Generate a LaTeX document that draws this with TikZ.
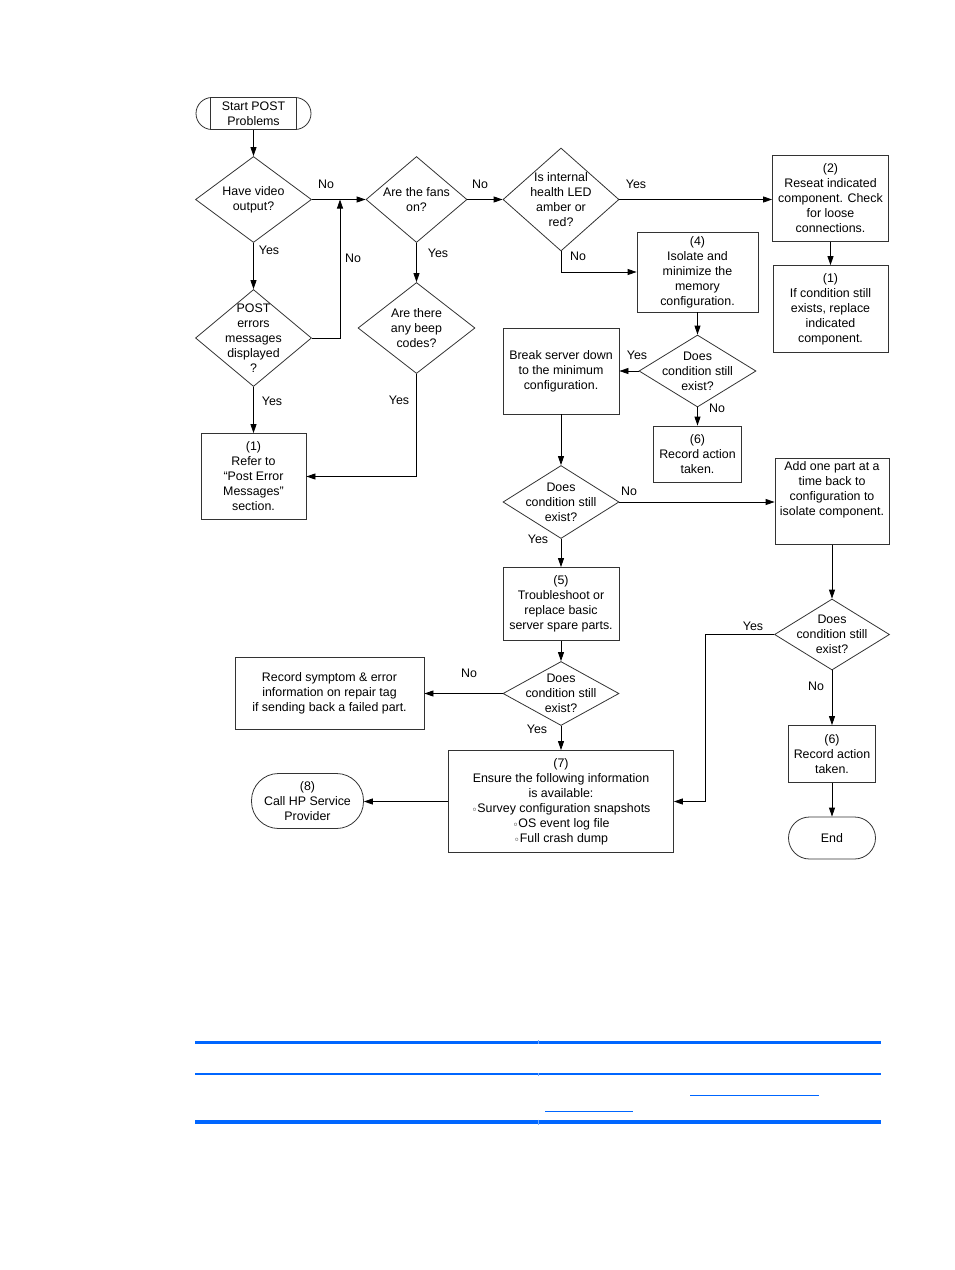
\documentclass[tikz,border=0pt]{standalone}
\usepackage{fontspec}
\setmainfont{Liberation Sans}
\newfontfamily\djv{DejaVu Sans}
\usetikzlibrary{shapes.geometric,arrows.meta,calc}
\newcommand\fsz{\fontsize{12.4}{15}\selectfont}
\newcommand\circb{\raisebox{-1.5pt}{\djv\fontsize{10}{10}\selectfont ◦}}
\definecolor{hpblue}{RGB}{0,102,255}
\begin{document}
\begin{tikzpicture}[x=1pt,y=-1pt,
  every node/.style={font=\fsz},
  box/.style={draw=black!80, line width=0.8pt, align=center, inner sep=0pt, rectangle},
  dia/.style={diamond, draw=black!80, line width=0.8pt, align=center, inner sep=-60pt},
  pill/.style={box, rounded corners=#1},
  lbl/.style={inner sep=0pt},
  arr/.style={-{Triangle[length=9pt,width=6pt]}, line width=0.8pt, black}
]
\useasboundingbox (0,0) rectangle (954,1270);

% nodes
\node[pill=16pt, minimum width=115pt, minimum height=32pt] (start) at (253.5,113.5) {Start POST\\Problems};
\draw[black!80, line width=0.8pt] ([xshift=15pt]start.north west) -- ([xshift=15pt]start.south west);
\draw[black!80, line width=0.8pt] ([xshift=-15pt]start.north east) -- ([xshift=-15pt]start.south east);

\node[dia, minimum width=116pt, minimum height=86pt] (d1) at (253.5,199.5) {Have video\\output?};
\node[dia, minimum width=116pt, minimum height=97pt] (d2) at (253.5,338) {POST\\errors\\messages\\displayed\\?};
\node[box, minimum width=105pt, minimum height=86pt] (ref1) at (253.5,476.5) {(1)\\Refer to\\“Post Error\\Messages”\\section.};
\node[dia, minimum width=101pt, minimum height=86pt] (d3) at (416.5,199.5) {Are the fans\\on?};
\node[dia, minimum width=117pt, minimum height=91pt] (d4) at (416.5,328) {Are there\\any beep\\codes?};
\node[dia, minimum width=116pt, minimum height=103pt] (d5) at (561,199.5) {Is internal\\health LED\\amber or\\red?};
\node[box, minimum width=116pt, minimum height=86pt] (b2) at (830.5,198.5) {(2)\\Reseat indicated\\component. Check\\for loose\\connections.};
\node[box, minimum width=115pt, minimum height=87pt] (b1b) at (830.5,309) {(1)\\If condition still\\exists, replace\\indicated\\component.};
\node[box, minimum width=121pt, minimum height=80pt] (b4) at (697.5,272) {(4)\\Isolate and\\minimize the\\memory\\configuration.};
\node[dia, minimum width=117pt, minimum height=72pt] (d6) at (697.5,371) {Does\\condition still\\exist?};
\node[box, minimum width=116pt, minimum height=86pt] (brk) at (561,371) {Break server down\\to the minimum\\configuration.};
\node[box, minimum width=88pt, minimum height=56pt] (r6) at (697.5,454) {(6)\\Record action\\taken.};
\node[dia, minimum width=116pt, minimum height=73pt] (d7) at (561,502) {Does\\condition still\\exist?};
\node[box, minimum width=114pt, minimum height=86pt] (add) at (832,501.5) {};
\node[align=center, inner sep=0pt, anchor=north] (addtxt) at ($(add.north)+(0,3)$) {Add one part at a\\time back to\\configuration to\\isolate component.};
\node[dia, minimum width=115pt, minimum height=71pt] (d8) at (832,634.5) {Does\\condition still\\exist?};
\node[box, minimum width=87pt, minimum height=57pt] (r6b) at (832,754) {(6)\\Record action\\taken.};
\node[pill=21pt, minimum width=87pt, minimum height=42pt] (end) at (832,838) {End};
\node[box, minimum width=116pt, minimum height=73pt] (b5) at (561,604) {(5)\\Troubleshoot or\\replace basic\\server spare parts.};
\node[dia, minimum width=116pt, minimum height=64pt] (d9) at (561,693.5) {Does\\condition still\\exist?};
\node[box, minimum width=189pt, minimum height=72pt] (rec) at (329.5,693.5) {Record symptom \& error\\information on repair tag\\if sending back a failed part.};
\node[box, minimum width=225pt, minimum height=102pt] (b7) at (561,801.5) {(7)\\Ensure the following information\\is available:\\\circb Survey configuration snapshots\\\circb OS event log file\\\circb Full crash dump};
\node[pill=27pt, minimum width=112pt, minimum height=55pt] (p8) at (307.5,801) {(8)\\Call HP Service\\Provider};

% junctions
\coordinate (j1) at (340,199.5);
\coordinate (j2) at (705,634.5);

% connectors
\draw[arr] (start) -- (d1);
\draw[arr] (d1.east) -- (d3.west);
\draw[arr] (d2.east) -| (j1);
\draw[arr] (d1) -- (d2);
\draw[arr] (d2) -- (ref1);
\draw[arr] (d3) -- (d4);
\draw[arr] (d4.south) |- (ref1.east);
\draw[arr] (d3.east) -- (d5.west);
\draw[arr] (d5.east) -- (d5.east -| b2.west);
\draw[arr] (d5.south) |- (b4.west);
\draw[arr] (b2) -- (b1b);
\draw[arr] (b4) -- (d6);
\draw[arr] (d6.west) -- (d6.west -| brk.east);
\draw[arr] (d6) -- (r6);
\draw[arr] (brk) -- (d7);
\draw[arr] (d7.east) -- (d7.east -| add.west);
\draw[arr] (d7) -- (b5);
\draw[arr] (add) -- (d8);
\draw[arr] (d8.west) -- (j2) |- (b7.east);
\draw[arr] (d8) -- (r6b);
\draw[arr] (r6b) -- (end);
\draw[arr] (b5) -- (d9);
\draw[arr] (d9.west) -- (d9.west -| rec.east);
\draw[arr] (d9) -- (b7);
\draw[arr] (b7.west) -- (b7.west -| p8.east);

% labels
\node[lbl] (l1) at (326,184.5) {No};
\node[lbl] (l2) at (353,258.5) {No};
\node[lbl] (l3) at (269,250.5) {Yes};
\node[lbl] (l4) at (272,401.5) {Yes};
\node[lbl] (l5) at (438,253.5) {Yes};
\node[lbl] (l6) at (399,400.5) {Yes};
\node[lbl] (l7) at (480,184.5) {No};
\node[lbl] (l8) at (636,184.5) {Yes};
\node[lbl] (l9) at (578,256.5) {No};
\node[lbl] (l10) at (637,355.5) {Yes};
\node[lbl] (l11) at (717,408.5) {No};
\node[lbl] (l12) at (629,491.5) {No};
\node[lbl] (l13) at (538,539.5) {Yes};
\node[lbl] (l14) at (753,626.5) {Yes};
\node[lbl] (l15) at (816,686.5) {No};
\node[lbl] (l16) at (469,673.5) {No};
\node[lbl] (l17) at (537,729.5) {Yes};

% bottom table rules
\fill[hpblue] (195,1040.5) rectangle (881,1043.5);
\fill[hpblue] (195,1073) rectangle (881,1075);
\fill[hpblue] (195,1120) rectangle (881,1124);
\draw[hpblue!55, line width=0.6pt] (538,1040) -- (538,1044);
\draw[hpblue!55, line width=0.6pt] (538,1072.5) -- (538,1075.5);
\draw[hpblue!55, line width=0.6pt] (538,1119.5) -- (538,1124.5);
\draw[hpblue, line width=1pt] (690,1095) -- (819,1095);
\draw[hpblue, line width=1pt] (545,1111) -- (633,1111);
\end{tikzpicture}
\end{document}
